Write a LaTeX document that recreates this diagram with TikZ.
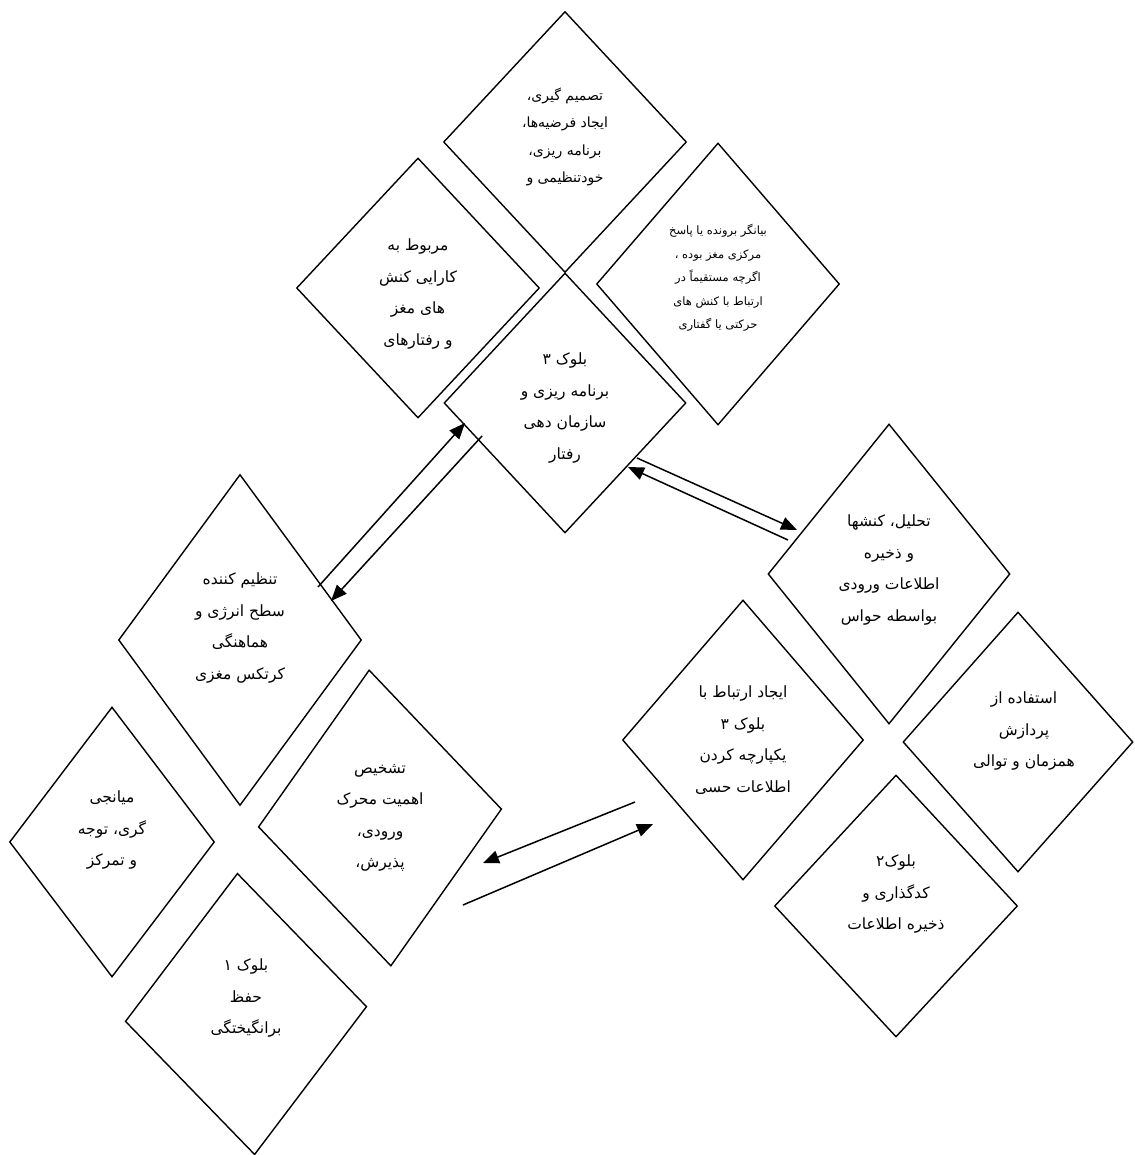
\documentclass[tikz,border=0pt]{standalone}
\usepackage{fontspec}
\usepackage{tikz}
\usetikzlibrary{shapes.geometric}
\usetikzlibrary{arrows.meta}
\newfontfamily\fafont[Script=Arabic]{DejaVu Sans}
\TeXXeTstate=1
\newcommand{\fa}[1]{\beginR#1\endR}
\tikzset{>={Triangle[length=16pt,width=13pt]}}
\tikzset{block/.style = {shape=diamond,draw,line width=1.4pt,inner sep=0pt}}
\tikzset{blocktext/.style = {align=center,inner sep=0pt,font=\fafont\fontsize{15.5}{31.5}\selectfont}}
\tikzset{link/.style = {->,line width=1.5pt}}

\begin{document}
\begin{tikzpicture}[x=1pt,y=-1pt]
                    \useasboundingbox (0,0) rectangle (1134,1155);

                    \node[block,minimum width=243pt,minimum height=261pt] (d1) at (565,142) {};
                    \node[block,minimum width=243pt,minimum height=282pt] (d2) at (718,284) {};
                    \node[block,minimum width=243pt,minimum height=260pt] (d3) at (418,288) {};
                    \node[block,minimum width=242pt,minimum height=260pt] (d4) at (565,403) {};
                    \node[block,minimum width=242pt,minimum height=300pt] (d5) at (889,574) {};
                    \node[block,minimum width=243pt,minimum height=331pt] (d6) at (240,640) {};
                    \node[block,minimum width=241pt,minimum height=280pt] (d7) at (743,740) {};
                    \node[block,minimum width=230pt,minimum height=260pt] (d8) at (1018,742) {};
                    \node[block,minimum width=205pt,minimum height=270pt] (d9) at (112,842) {};
                    \node[block,minimum width=244pt,minimum height=297pt,rotate=4.2] (d10) at (380,818) {};
                    \node[block,minimum width=243pt,minimum height=262pt] (d11) at (896,906) {};
                    \node[block,minimum width=242pt,minimum height=282pt,rotate=3.5] (d12) at (246,1014) {};

                    \node[blocktext,font=\fafont\fontsize{14}{27.5}\selectfont] (t1) at (565,137)
                        {\fa{تصمیم گیری،}\\\fa{ایجاد فرضیه‌ها،}\\\fa{برنامه ریزی،}\\\fa{خودتنظیمی و}};
                    \node[blocktext,font=\fafont\fontsize{11.5}{23.5}\selectfont] (t2) at (718,278)
                        {\fa{بیانگر برونده یا پاسخ}\\\fa{مرکزی مغز بوده ،}\\\fa{اگرچه مستقیماً در}\\\fa{ارتباط با کنش های}\\\fa{حرکتی یا گفتاری}};
                    \node[blocktext] (t3) at (418,294)
                        {\fa{مربوط به}\\\fa{کارایی کنش}\\\fa{های مغز}\\\fa{و رفتارهای}};
                    \node[blocktext] (t4) at (565,408)
                        {\fa{بلوک ۳}\\\fa{برنامه ریزی و}\\\fa{سازمان دهی}\\\fa{رفتار}};
                    \node[blocktext] (t5) at (889,570)
                        {\fa{تحلیل، کنشها}\\\fa{و ذخیره}\\\fa{اطلاعات ورودی}\\\fa{بواسطه حواس}};
                    \node[blocktext] (t6) at (240,628)
                        {\fa{تنظیم کننده}\\\fa{سطح انرژی و}\\\fa{هماهنگی}\\\fa{کرتکس مغزی}};
                    \node[blocktext] (t7) at (743,740)
                        {\fa{ایجاد ارتباط با}\\\fa{بلوک ۳}\\\fa{یکپارچه کردن}\\\fa{اطلاعات حسی}};
                    \node[blocktext] (t8) at (1024,731)
                        {\fa{استفاده از}\\\fa{پردازش}\\\fa{همزمان و توالی}};
                    \node[blocktext] (t9) at (112,830)
                        {\fa{میانجی}\\\fa{گری، توجه}\\\fa{و تمرکز}};
                    \node[blocktext] (t10) at (380,818)
                        {\fa{تشخیص}\\\fa{اهمیت محرک}\\\fa{ورودی،}\\\fa{پذیرش،}};
                    \node[blocktext] (t11) at (896,894)
                        {\fa{بلوک۲}\\\fa{کدگذاری و}\\\fa{ذخیره اطلاعات}};
                    \node[blocktext] (t12) at (246,998)
                        {\fa{بلوک ۱}\\\fa{حفظ}\\\fa{برانگیختگی}};

                    % arrow ends between the blocks
                    \coordinate (a1) at (318,587);
                    \coordinate (a2) at (465,423);
                    \coordinate (a3) at (482,436);
                    \coordinate (a4) at (331,601);
                    \coordinate (b1) at (637,458);
                    \coordinate (b2) at (797,530);
                    \coordinate (b3) at (788,540);
                    \coordinate (b4) at (628,467);
                    \coordinate (c1) at (635,802);
                    \coordinate (c2) at (483,863);
                    \coordinate (c3) at (463,905);
                    \coordinate (c4) at (653,824);

                    \draw[link] (a1) -- (a2);
                    \draw[link] (a3) -- (a4);
                    \draw[link] (b1) -- (b2);
                    \draw[link] (b3) -- (b4);
                    \draw[link] (c1) -- (c2);
                    \draw[link] (c3) -- (c4);
                \end{tikzpicture}
\end{document}
